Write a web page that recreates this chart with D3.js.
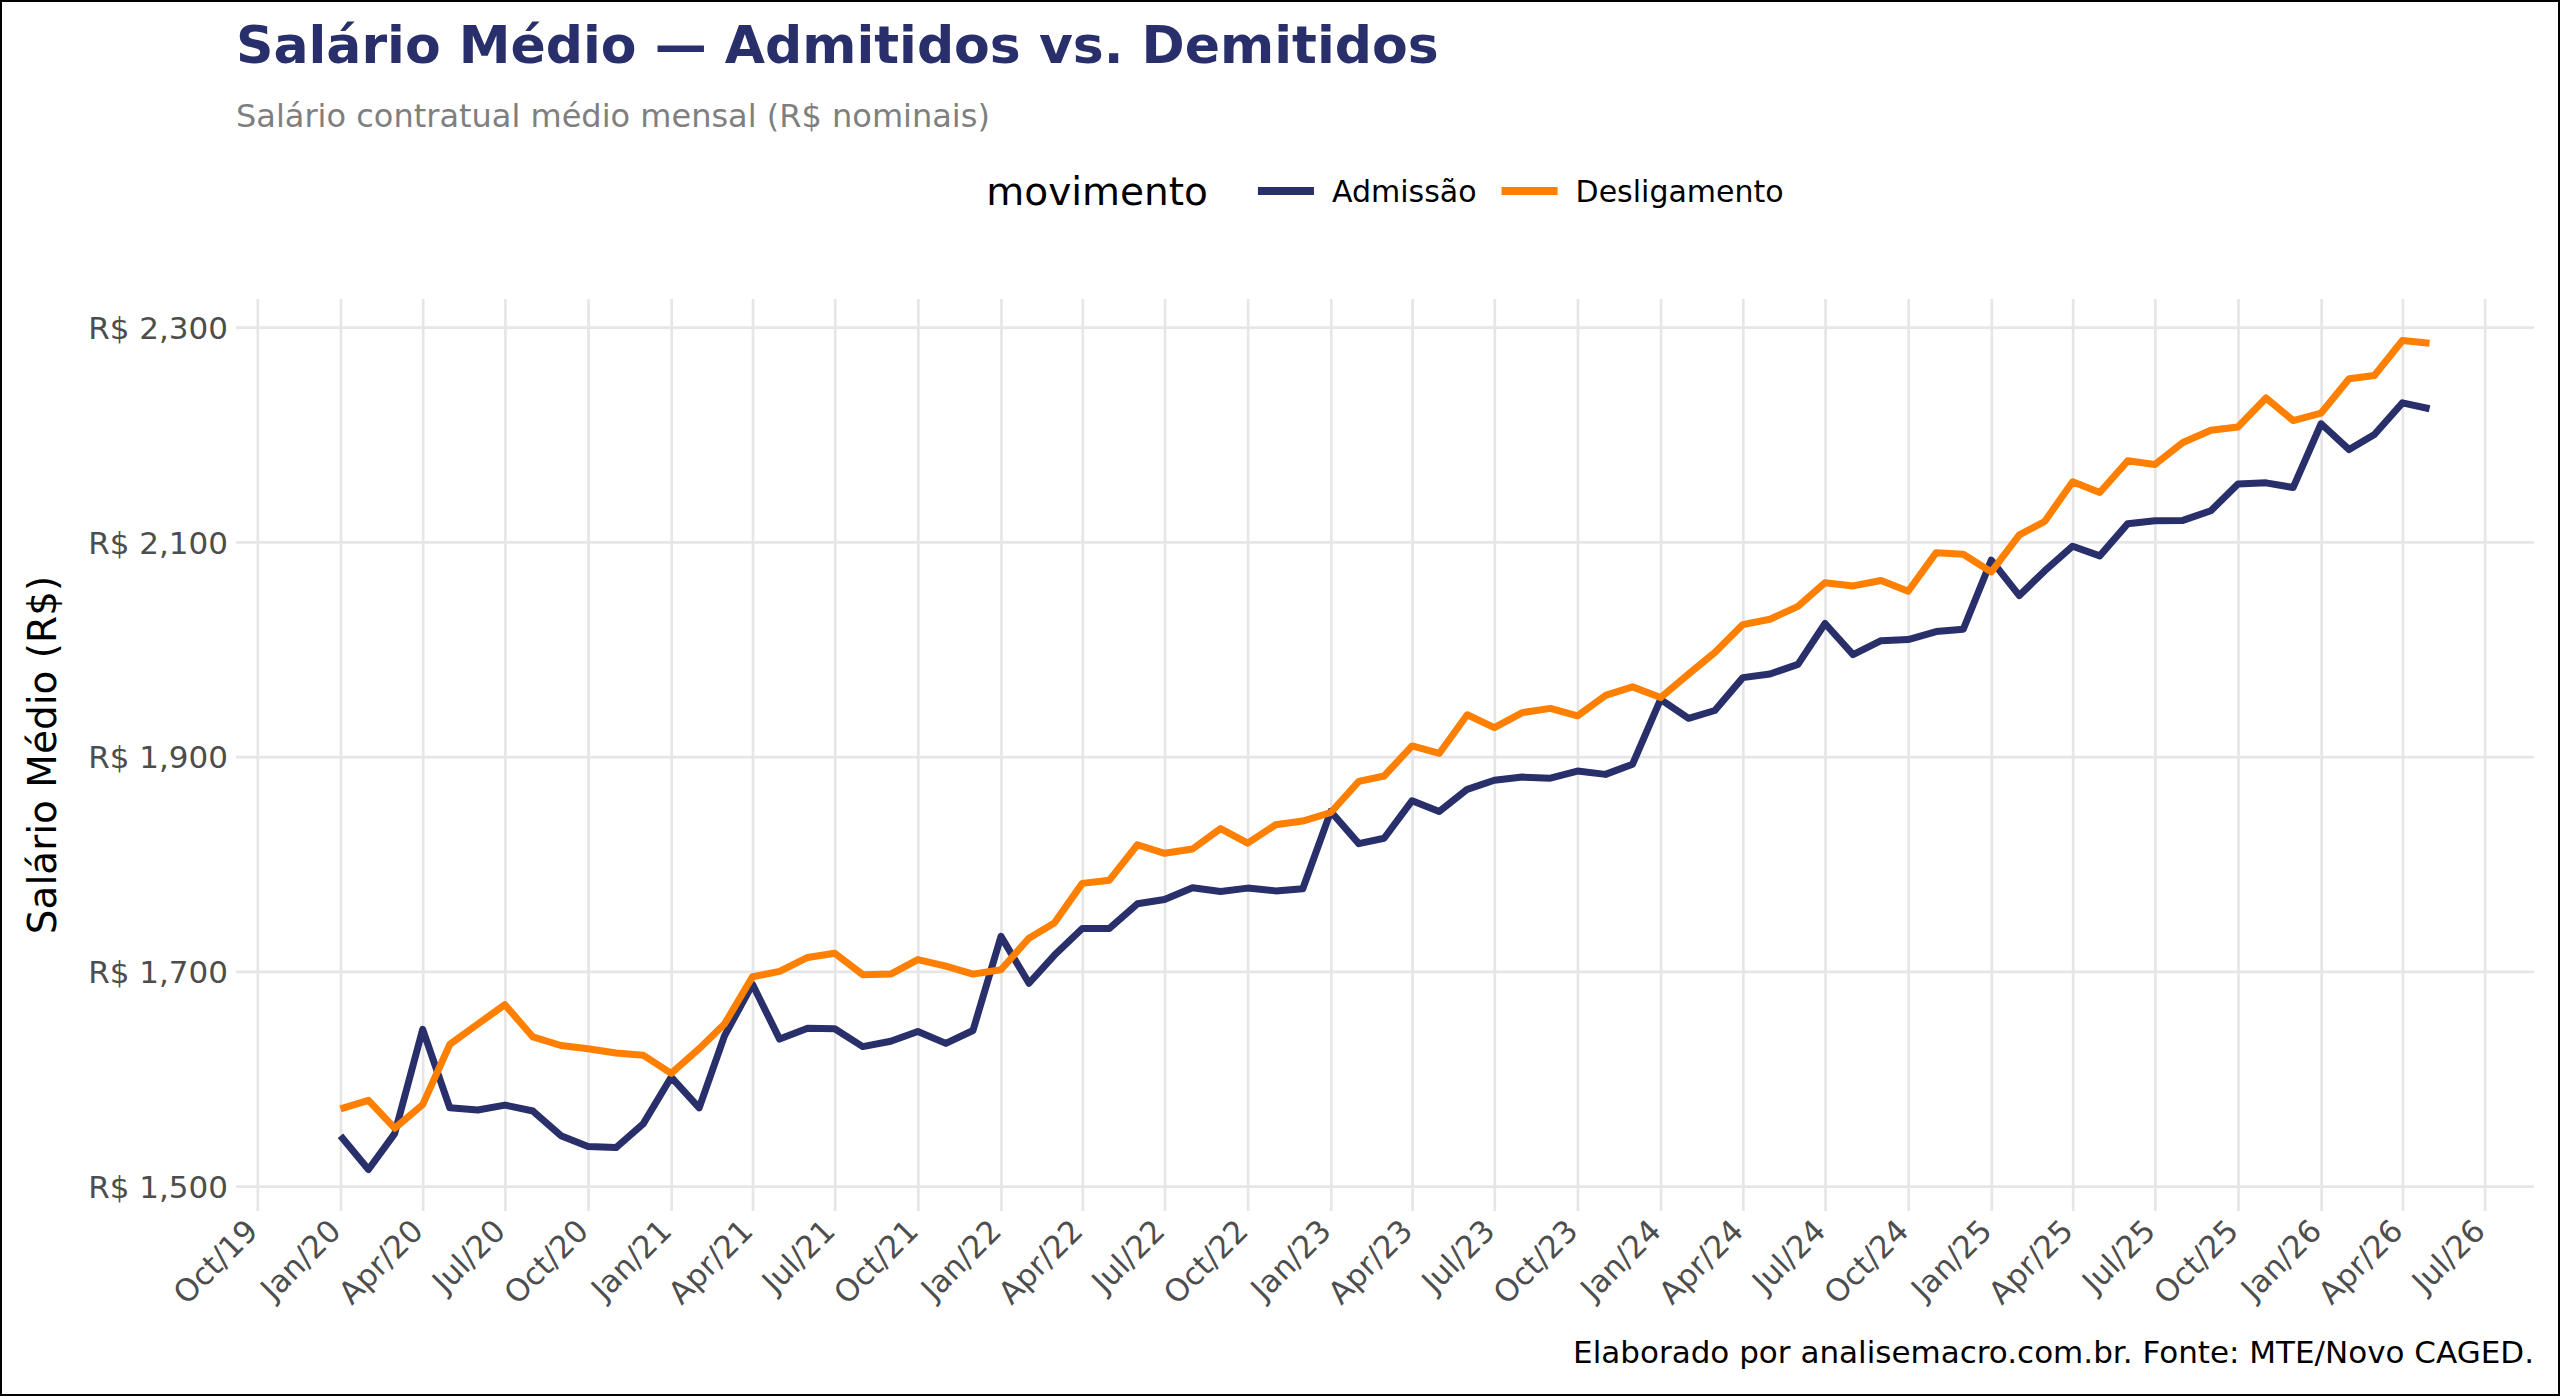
<!DOCTYPE html>
<html>
<head>
<meta charset="utf-8">
<script src="https://cdn.jsdelivr.net/npm/d3@7"></script>
<style>
  body { margin: 0; background: #fff; overflow: hidden; }
  text { font-family: "DejaVu Sans", sans-serif; }
</style>
</head>
<body>
<svg width="2560" height="1396"></svg>
<script>
// Data: average monthly contractual wage (R$), Jan/2020 .. May/2026
var startMonth = new Date(2020, 0, 1);
var nMonths = 77;

var admissao = [
  1547, 1515.5, 1549, 1646, 1573, 1571, 1575.5, 1570, 1547, 1537, 1536, 1558,
  1601.5, 1573, 1640, 1688, 1637, 1647, 1646.6, 1630, 1635, 1644, 1633, 1645,
  1732.6, 1689, 1715, 1740, 1740, 1763, 1767, 1778, 1774.5, 1777.6, 1775, 1777,
  1849, 1819, 1824, 1859, 1849, 1869.6, 1878, 1881, 1880, 1886.6, 1883.5, 1893,
  1953.4, 1935.7, 1943, 1973.6, 1977, 1986, 2024, 1995, 2008, 2009, 2016.5, 2018.6,
  2083, 2050, 2073, 2096, 2087, 2117, 2119.6, 2120, 2129, 2154, 2155, 2150.6,
  2210, 2186, 2200, 2229.5, 2224
];

var desligamento = [
  1572, 1580, 1554, 1576, 1632, 1651, 1669, 1639, 1631, 1628, 1624, 1622,
  1605, 1628, 1651, 1695, 1700, 1713, 1717, 1697, 1697.5, 1711, 1705, 1697.5,
  1701.6, 1731, 1745, 1782, 1785, 1818, 1810, 1814, 1833, 1819.5, 1836.6, 1840,
  1848, 1877, 1882, 1910, 1903, 1939, 1927, 1941, 1945, 1938, 1957, 1965,
  1955, 1977, 1997, 2023, 2028, 2040, 2062, 2059, 2064, 2054, 2090, 2088.5,
  2072, 2106.5, 2119, 2156, 2146, 2175.5, 2172, 2192.5, 2204, 2207, 2234, 2213,
  2220, 2252, 2255, 2287.6, 2285
];

var seriesNames = ["Admissão", "Desligamento"];
var seriesColors = ["#282f6b", "#ff7f00"];

var yTicks = [1500, 1700, 1900, 2100, 2300];
var xTickLabels = ["Oct/19", "Jan/20", "Apr/20", "Jul/20", "Oct/20", "Jan/21", "Apr/21",
  "Jul/21", "Oct/21", "Jan/22", "Apr/22", "Jul/22", "Oct/22", "Jan/23", "Apr/23",
  "Jul/23", "Oct/23", "Jan/24", "Apr/24", "Jul/24", "Oct/24", "Jan/25", "Apr/25",
  "Jul/25", "Oct/25", "Jan/26", "Apr/26", "Jul/26"];

var months = d3.range(nMonths).map(function(i) { return d3.timeMonth.offset(startMonth, i); });
var parseTick = d3.timeParse("%b/%y");
var xTicks = xTickLabels.map(parseTick);

// Layout
var svg = d3.select("svg");
var width = 2560, height = 1396;
var pLeft = 236, pRight = 2534, pTop = 299, pBottom = 1211;

svg.append("rect").attr("width", width).attr("height", height).attr("fill", "#fff");

// Scales (5% expansion like ggplot)
var tExt = d3.extent(months);
var tPad = (tExt[1] - tExt[0]) * 0.05;
var x = d3.scaleTime()
  .domain([new Date(+tExt[0] - tPad), new Date(+tExt[1] + tPad)])
  .range([pLeft, pRight]);

var vExt = d3.extent(admissao.concat(desligamento));
var vPad = (vExt[1] - vExt[0]) * 0.05;
var y = d3.scaleLinear()
  .domain([vExt[0] - vPad, vExt[1] + vPad])
  .range([pBottom, pTop]);

// Axes / gridlines
var gx = svg.append("g")
  .attr("transform", "translate(0," + pBottom + ")")
  .call(d3.axisBottom(x)
    .tickValues(xTicks)
    .tickSize(-(pBottom - pTop))
    .tickFormat(d3.timeFormat("%b/%y")));
gx.select(".domain").remove();
gx.selectAll(".tick line").attr("stroke", "#e6e6e6").attr("stroke-width", 2.7);
gx.selectAll(".tick text")
  .attr("x", 0).attr("y", 0).attr("dy", "0.72em")
  .attr("text-anchor", "end")
  .attr("transform", "translate(-14,6) rotate(-45)")
  .attr("fill", "#4d4d4d")
  .style("font-size", "31px");

var gy = svg.append("g")
  .attr("transform", "translate(" + pLeft + ",0)")
  .call(d3.axisLeft(y)
    .tickValues(yTicks)
    .tickSize(-(pRight - pLeft))
    .tickPadding(8)
    .tickFormat(function(d) { return "R$ " + d3.format(",")(d); }));
gy.select(".domain").remove();
gy.selectAll(".tick line").attr("stroke", "#e6e6e6").attr("stroke-width", 2.7);
gy.selectAll(".tick text")
  .attr("fill", "#4d4d4d")
  .attr("dy", "0.36em")
  .style("font-size", "31px");

// Lines
var line = d3.line()
  .x(function(d, i) { return x(months[i]); })
  .y(function(d) { return y(d); });

[admissao, desligamento].forEach(function(s, k) {
  svg.append("path")
    .datum(s)
    .attr("d", line)
    .attr("fill", "none")
    .attr("stroke", seriesColors[k])
    .attr("stroke-width", 7)
    .attr("stroke-linejoin", "round")
    .attr("stroke-linecap", "butt");
});

// Titles
svg.append("text")
  .attr("x", pLeft).attr("y", 63)
  .attr("fill", "#282f6b")
  .style("font-size", "52px").style("font-weight", "bold")
  .text("Salário Médio — Admitidos vs. Demitidos");

svg.append("text")
  .attr("x", pLeft).attr("y", 127)
  .attr("fill", "#7f7f7f")
  .style("font-size", "32px")
  .text("Salário contratual médio mensal (R$ nominais)");

svg.append("text")
  .attr("transform", "translate(56," + ((pTop + pBottom) / 2) + ") rotate(-90)")
  .attr("text-anchor", "middle")
  .attr("fill", "#000")
  .style("font-size", "39px")
  .text("Salário Médio (R$)");

svg.append("text")
  .attr("x", pRight).attr("y", 1363)
  .attr("text-anchor", "end")
  .attr("fill", "#000")
  .style("font-size", "31px")
  .text("Elaborado por analisemacro.com.br. Fonte: MTE/Novo CAGED.");

// Legend, centred over the panel
var legY = 191;
var legend = svg.append("g");
var legTitle = legend.append("text")
  .attr("y", legY).attr("dy", "0.35em")
  .style("font-size", "39px")
  .text("movimento");
var cx = legTitle.node().getComputedTextLength() + 50;
seriesNames.forEach(function(name, k) {
  legend.append("line")
    .attr("x1", cx).attr("x2", cx + 56)
    .attr("y1", legY).attr("y2", legY)
    .attr("stroke", seriesColors[k])
    .attr("stroke-width", 8);
  var t = legend.append("text")
    .attr("x", cx + 74).attr("y", legY).attr("dy", "0.35em")
    .style("font-size", "30px")
    .text(name);
  cx += 74 + t.node().getComputedTextLength() + 25;
});
var legW = cx - 25;
legend.attr("transform", "translate(" + ((pLeft + pRight) / 2 - legW / 2) + ",0)");

// Outer border
svg.append("rect")
  .attr("x", 1).attr("y", 1)
  .attr("width", width - 2).attr("height", height - 2)
  .attr("fill", "none")
  .attr("stroke", "#000")
  .attr("stroke-width", 2);
</script>
</body>
</html>
